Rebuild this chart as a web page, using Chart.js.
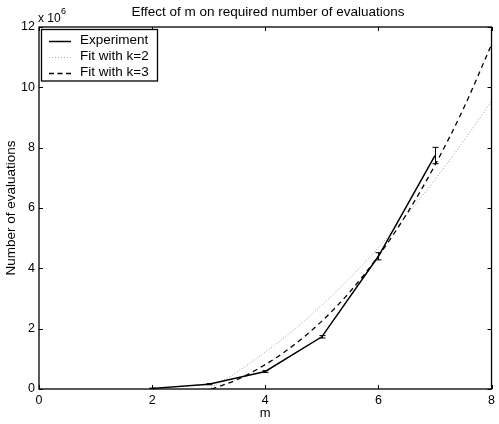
<!DOCTYPE html>
<html>
<head>
<meta charset="utf-8">
<script src="https://cdn.jsdelivr.net/npm/chart.js@4"></script>
<style>
html,body{margin:0;padding:0;background:#fff;}
#wrap{width:499px;height:424px;position:relative;}
</style>
</head>
<body>
<div id="wrap"><canvas id="c" width="499" height="424"></canvas></div>
<script>
// ---- data (y values in units of 10^6) ----
const expM = [2, 3, 4, 5, 6, 7];
const expVals = [0.02, 0.16, 0.58, 1.73, 4.40, 7.74];
const expErr = [0.01, 0.02, 0.03, 0.04, 0.12, 0.27];

const fit2M = [3.0, 3.5, 4.0, 4.5, 5.0, 5.5, 6.0, 6.5, 7.0, 7.5, 8.0];
const fit2Vals = [0.0, 0.56, 1.22, 1.95, 2.78, 3.69, 4.69, 5.77, 6.94, 8.20, 9.54];

const fit3M = [3.05, 3.5, 4.0, 4.5, 5.0, 5.5, 6.0, 6.5, 7.0, 7.5, 8.0];
const fit3Vals = [0.0, 0.31, 0.81, 1.45, 2.25, 3.23, 4.41, 5.80, 7.42, 9.28, 11.42];

const xTicks = [0, 2, 4, 6, 8];
const yTicks = [0, 2, 4, 6, 8, 10, 12];

const titleText = "Effect of m on required number of evaluations";
const xLabel = "m";
const yLabel = "Number of evaluations";
const legendLabels = ["Experiment", "Fit with k=2", "Fit with k=3"];

const FONT = "'Liberation Sans', Arial, Helvetica, sans-serif";

function pts(xs, ys){ return xs.map((x,i)=>({x:x, y:ys[i]})); }

const decor = {
  id: 'decor',
  afterDatasetsDraw(chart){
    const ctx = chart.ctx;
    const a = chart.chartArea;
    const xs = chart.scales.x, ys = chart.scales.y;
    ctx.save();
    // error bars
    ctx.strokeStyle = '#000';
    ctx.lineWidth = 1;
    expM.forEach((m,i)=>{
      const px = Math.round(xs.getPixelForValue(m)) + 0.5;
      const top = ys.getPixelForValue(expVals[i] + expErr[i]);
      const bot = ys.getPixelForValue(Math.max(0, expVals[i] - expErr[i]));
      ctx.beginPath();
      ctx.moveTo(px, top); ctx.lineTo(px, bot);
      ctx.moveTo(px-3, top); ctx.lineTo(px+3, top);
      ctx.moveTo(px-3, bot); ctx.lineTo(px+3, bot);
      ctx.stroke();
    });
    // frame
    ctx.lineWidth = 1.3;
    ctx.strokeRect(a.left, a.top, a.right - a.left, a.bottom - a.top);
    // inside ticks
    ctx.lineWidth = 1;
    const tl = 4;
    ctx.beginPath();
    xTicks.forEach(v=>{
      const px = Math.round(xs.getPixelForValue(v)) + 0.5;
      ctx.moveTo(px, a.bottom); ctx.lineTo(px, a.bottom - tl);
      ctx.moveTo(px, a.top); ctx.lineTo(px, a.top + tl);
    });
    yTicks.forEach(v=>{
      const py = Math.round(ys.getPixelForValue(v)) + 0.5;
      ctx.moveTo(a.left, py); ctx.lineTo(a.left + tl, py);
      ctx.moveTo(a.right, py); ctx.lineTo(a.right - tl, py);
    });
    ctx.stroke();
    // title
    ctx.fillStyle = '#000';
    ctx.font = '13.5px ' + FONT;
    ctx.textAlign = 'center';
    ctx.textBaseline = 'middle';
    ctx.fillText(titleText, 268, 12);
    // exponent label
    ctx.textAlign = 'left';
    ctx.font = '12px ' + FONT;
    ctx.fillText('x 10', 38, 19);
    ctx.font = '9px ' + FONT;
    ctx.fillText('6', 61, 12);
    // legend
    const lx = 41.5, ly = 29.5, lw = 116, lh = 51.5;
    ctx.fillStyle = '#fff';
    ctx.fillRect(lx, ly, lw, lh);
    ctx.lineWidth = 1.3;
    ctx.strokeStyle = '#000';
    ctx.strokeRect(lx, ly, lw, lh);
    const rows = [41, 57, 73];
    const styles = [
      {c:'#000', w:1.5, d:[]},
      {c:'#aaa', w:1, d:[1,2]},
      {c:'#000', w:1.3, d:[5,3.5]}
    ];
    rows.forEach((ry,i)=>{
      const s = styles[i];
      ctx.strokeStyle = s.c; ctx.lineWidth = s.w; ctx.setLineDash(s.d);
      ctx.beginPath(); ctx.moveTo(49, ry + 0.5); ctx.lineTo(71, ry + 0.5); ctx.stroke();
      ctx.setLineDash([]);
      ctx.fillStyle = '#000';
      ctx.font = '13.5px ' + FONT;
      ctx.textAlign = 'left';
      ctx.textBaseline = 'middle';
      ctx.fillText(legendLabels[i], 80, ry - 0.5);
    });
    ctx.restore();
  }
};

new Chart(document.getElementById('c'), {
  type: 'scatter',
  data: {
    datasets: [
      { label: legendLabels[0], data: pts(expM, expVals), showLine: true,
        borderColor: '#000', borderWidth: 1.5, pointRadius: 0, tension: 0, order: 1 },
      { label: legendLabels[1], data: pts(fit2M, fit2Vals), showLine: true,
        borderColor: '#999', borderWidth: 1, borderDash: [1,2], pointRadius: 0, cubicInterpolationMode: 'monotone', order: 3 },
      { label: legendLabels[2], data: pts(fit3M, fit3Vals), showLine: true,
        borderColor: '#000', borderWidth: 1.3, borderDash: [5,4], pointRadius: 0, cubicInterpolationMode: 'monotone', order: 2 }
    ]
  },
  options: {
    responsive: false,
    animation: false,
    devicePixelRatio: 1,
    layout: { padding: { top: 27, right: 1.5, left: 0, bottom: 0 } },
    plugins: { legend: { display: false }, title: { display: false }, tooltip: { enabled: false } },
    scales: {
      x: {
        type: 'linear', min: 0, max: 8,
        afterBuildTicks: s => { s.ticks = xTicks.map(v=>({value:v})); },
        afterFit: s => { s.height = 35; },
        grid: { display: false, drawTicks: false },
        border: { display: false },
        ticks: { color: '#000', font: { family: FONT, size: 12.5 }, padding: 4, maxRotation: 0 },
        title: { display: true, text: xLabel, color: '#000', font: { family: FONT, size: 13 }, padding: { top: 0, bottom: 3 } }
      },
      y: {
        type: 'linear', min: 0, max: 12,
        afterBuildTicks: s => { s.ticks = yTicks.map(v=>({value:v})); },
        afterFit: s => { s.width = 39; },
        grid: { display: false, drawTicks: false },
        border: { display: false },
        ticks: { color: '#000', font: { family: FONT, size: 12.5 }, padding: 4 },
        title: { display: true, text: yLabel, color: '#000', font: { family: FONT, size: 13.5 }, padding: { top: 3, bottom: 0 } }
      }
    }
  },
  plugins: [decor]
});
</script>
</body>
</html>
